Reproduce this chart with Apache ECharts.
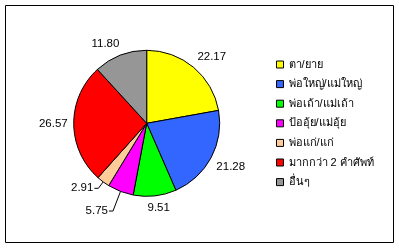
<!DOCTYPE html>
<html><head><meta charset="utf-8">
<script src="https://cdn.jsdelivr.net/npm/echarts@6/dist/echarts.min.js"></script>
<style>html,body{margin:0;padding:0;background:#fff}#c{width:399px;height:248px}</style>
</head><body><div id="c"></div>
<script>
const categories = ['ตา/ยาย','พ่อใหญ่/แม่ใหญ่','พ่อเถ้า/แม่เถ้า','ป้ออุ้ย/แม่อุ้ย','พ่อแก่/แก่','มากกว่า 2 คำศัพท์','อื่นๆ'];
const values = [22.17, 21.28, 9.51, 5.75, 2.91, 26.57, 11.80];
const colors = ['#FFFF00','#3366FF','#00FF00','#FF00FF','#FFCC99','#FF0000','#969696'];
const leaderShown = [false,false,false,true,true,false,false];
const leaderLen = [6,6,6,21,8,6,6];

const CX = 146.7, CY = 123.3, R = 73;
const total = values.reduce((a,b)=>a+b,0);
const cum = []; values.reduce((a,v,i)=>{cum[i]=a; return a+v;},0);

const chart = echarts.init(document.getElementById('c'), null, {renderer:'canvas'});
chart.setOption({
  animation:false,
  color: colors,
  textStyle:{fontFamily:'"Liberation Sans", Tahoma, sans-serif'},
  graphic:[{type:'rect', shape:{x:5.5,y:5.5,width:388,height:237}, style:{fill:'none',stroke:'#000',lineWidth:1}, silent:true}],
  legend:{
    orient:'vertical', left:271, top:54,
    itemWidth:7, itemHeight:7, itemGap:8.6,
    icon:'rect',
    itemStyle:{borderColor:'#000',borderWidth:1},
    textStyle:{fontSize:11,color:'#000'},
    data: categories
  },
  series:[{
    type:'pie',
    center:[CX,CY],
    radius:R,
    startAngle:90,
    clockwise:true,
    avoidLabelOverlap:false,
    itemStyle:{borderColor:'#000',borderWidth:1},
    label:{show:true, position:'outside', formatter:p=>p.value.toFixed(2), fontSize:11.5, color:'#000', distanceToLabelLine:1},
    labelLine:{show:true, length:6, length2:4, lineStyle:{color:'#000',width:1}},
    labelLayout: function(p){
      const i = p.dataIndex;
      if (leaderShown[i]) return {};
      const mid = (cum[i] + values[i]/2) / total * 2 * Math.PI;
      const ux = Math.sin(mid), uy = -Math.cos(mid);
      const ax = CX + (R+6)*ux, ay = CY + (R+6)*uy;
      const f = t => Math.max(-1, Math.min(1, t*2.5));
      const w = p.labelRect.width, h = p.labelRect.height;
      return {x: ax + f(ux)*w/2, y: ay + f(uy)*h/2, align:'center', verticalAlign:'middle'};
    },
    data: categories.map((n,i)=>({name:n, value:values[i], labelLine:{show:leaderShown[i], length:leaderLen[i]}}))
  }]
});
</script></body></html>
